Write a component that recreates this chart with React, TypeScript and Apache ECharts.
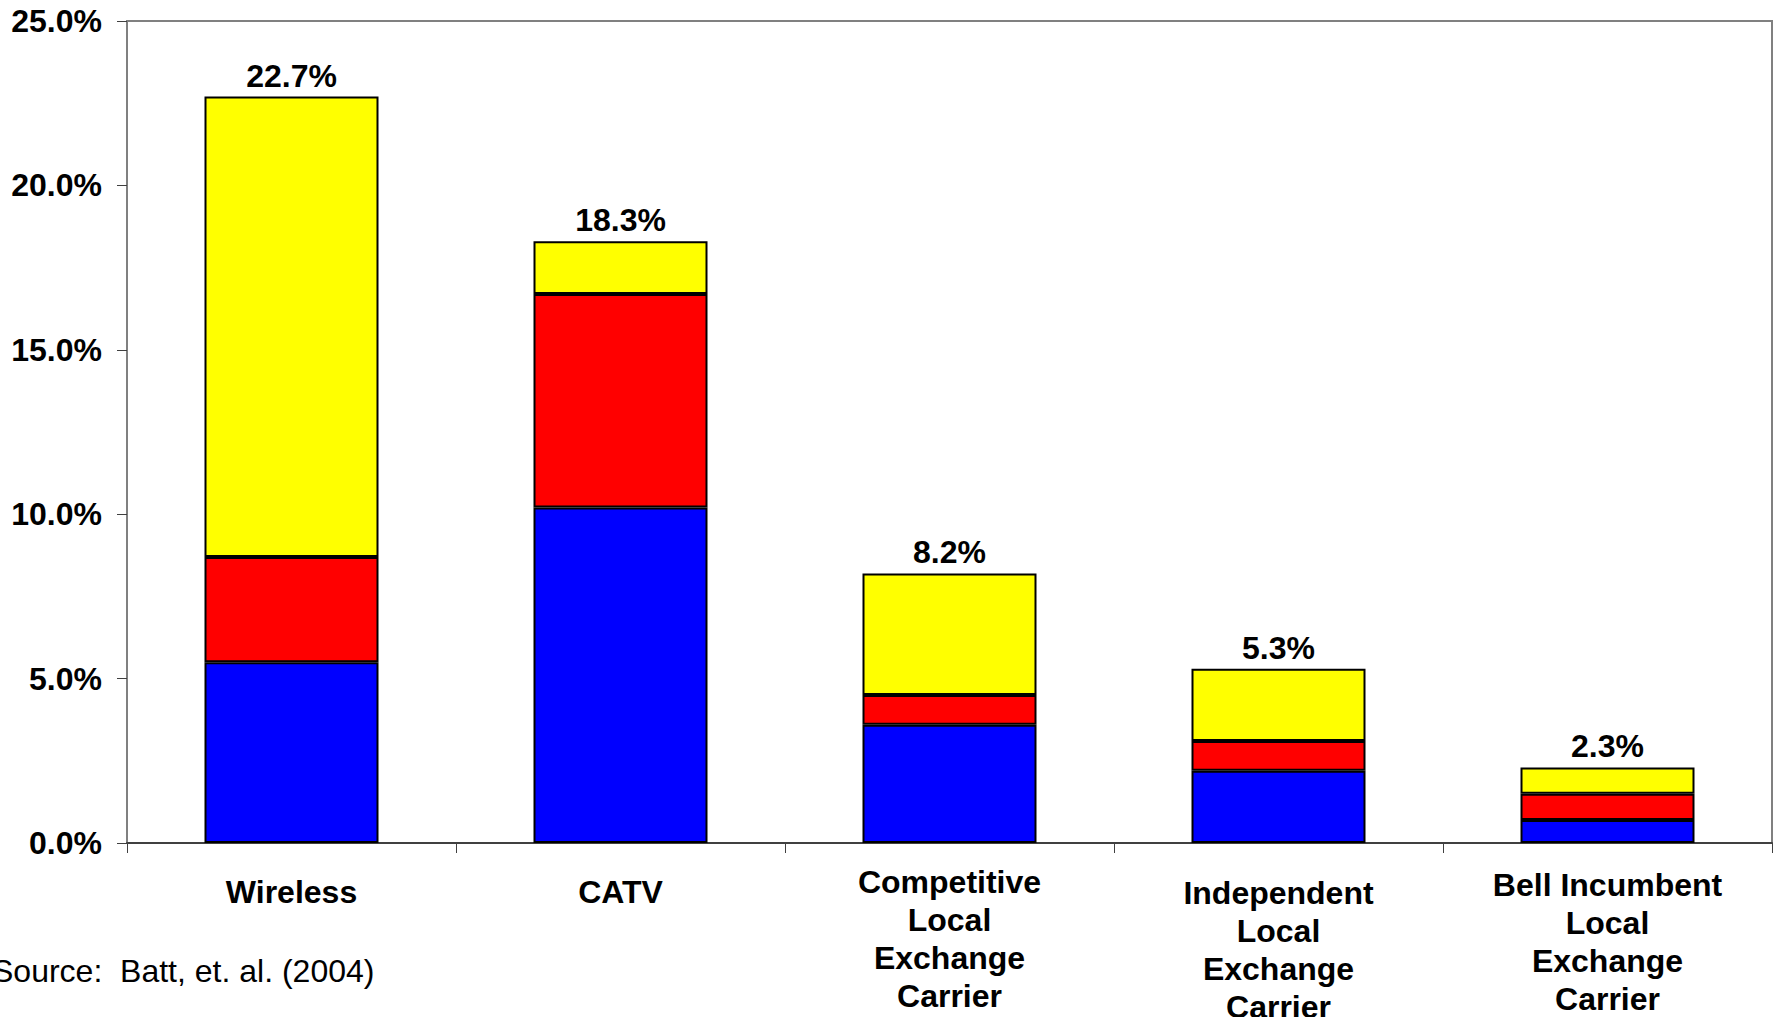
import React, { useEffect, useRef } from "react";
import * as echarts from "echarts";

const categories = [
  "Wireless",
  "CATV",
  "Competitive\nLocal\nExchange\nCarrier",
  "Independent\nLocal\nExchange\nCarrier",
  "Bell Incumbent\nLocal\nExchange\nCarrier",
];
const blueValues = [5.5, 10.2, 3.6, 2.2, 0.7];
const redValues = [3.2, 6.5, 0.9, 0.9, 0.8];
const yellowValues = [14.0, 1.6, 3.7, 2.2, 0.8];
const totalLabels = ["22.7%", "18.3%", "8.2%", "5.3%", "2.3%"];
const yTicks = { min: 0, max: 25, interval: 5 };
const sourceText = "Source:  Batt, et. al. (2004)";
const labelOffsets = [10, 10, 0, 11, 3];

const FONT = "'Liberation Sans', Arial, sans-serif";

export default function App() {
  const ref = useRef<HTMLDivElement>(null);
  useEffect(() => {
    if (!ref.current) return;
    const chart = echarts.init(ref.current, undefined, { renderer: "svg" });
    const barStyle = (color: string) => ({
      color,
      borderColor: "#000",
      borderWidth: 2,
    });
    chart.setOption({
      animation: false,
      backgroundColor: "#fff",
      textStyle: { fontFamily: FONT },
      grid: {
        left: 127,
        right: 8,
        top: 21,
        bottom: 174,
        containLabel: false,
        outerBoundsMode: "none",
        show: true,
        borderColor: "#808080",
        borderWidth: 2,
        backgroundColor: "transparent",
      },
      xAxis: {
        type: "category",
        data: categories.map((c, i) => ({
          value: c,
          textStyle: { padding: [labelOffsets[i], 0, 0, 0] },
        })),
        boundaryGap: true,
        axisLine: { lineStyle: { color: "#404040", width: 2 } },
        axisTick: { show: true, alignWithLabel: false, length: 10, lineStyle: { color: "#404040", width: 1 } },
        axisLabel: {
          interval: 0,
          margin: 20,
          color: "#000",
          fontFamily: FONT,
          fontWeight: "bold",
          fontSize: 32,
          lineHeight: 38,
        },
        splitLine: { show: false },
      },
      yAxis: {
        type: "value",
        min: yTicks.min,
        max: yTicks.max,
        interval: yTicks.interval,
        axisLine: { show: true, lineStyle: { color: "#808080", width: 2 } },
        axisTick: { show: true, length: 10, lineStyle: { color: "#404040", width: 1 } },
        axisLabel: {
          margin: 25,
          color: "#000",
          fontFamily: FONT,
          fontWeight: "bold",
          fontSize: 32,
          formatter: (v: number) => v.toFixed(1) + "%",
        },
        splitLine: { show: false },
      },
      series: [
        {
          type: "bar",
          stack: "s",
          data: blueValues,
          barWidth: 174,
          itemStyle: barStyle("#0000ff"),
        },
        {
          type: "bar",
          stack: "s",
          data: redValues,
          barWidth: 174,
          itemStyle: barStyle("#ff0000"),
        },
        {
          type: "bar",
          stack: "s",
          data: yellowValues,
          barWidth: 174,
          itemStyle: barStyle("#ffff00"),
          label: {
            show: true,
            position: "top",
            distance: 5,
            color: "#000",
            fontFamily: FONT,
            fontWeight: "bold",
            fontSize: 32,
            formatter: (p: any) => totalLabels[p.dataIndex],
          },
        },
      ],
      graphic: [
        {
          type: "text",
          left: -8,
          top: 955,
          style: {
            text: sourceText,
            fill: "#000",
            font: "32px " + FONT,
          },
        },
      ],
    });
    return () => chart.dispose();
  }, []);
  return (
    <div
      ref={ref}
      style={{ position: "fixed", left: 0, top: 0, width: 1780, height: 1017, background: "#fff" }}
    />
  );
}
